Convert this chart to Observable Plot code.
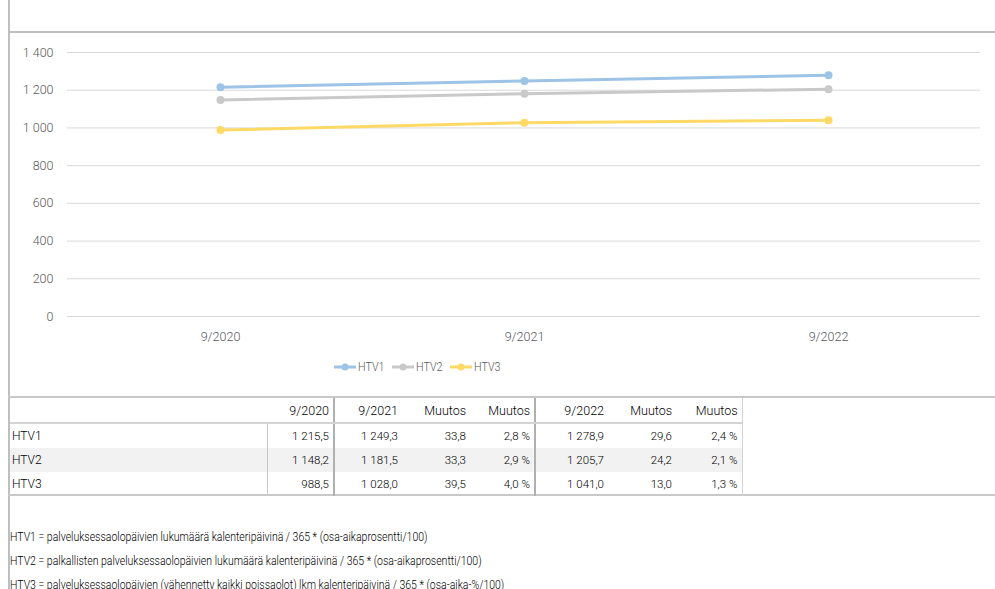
<!DOCTYPE html>
<html>
<head>
<meta charset="utf-8">
<script src="https://cdn.jsdelivr.net/npm/d3@7"></script>
<script src="https://cdn.jsdelivr.net/npm/@observablehq/plot@0.6"></script>
<style>
  body { margin:0; width:995px; height:589px; overflow:hidden; position:relative; background:#fff; font-family: Roboto, "Liberation Sans", sans-serif; color:#000; }
  .abs { position:absolute; }
  .leg { position:absolute; top:359px; font-size:12.5px; color:#595959; white-space:nowrap; font-weight:300; }
  table { position:absolute; left:10px; top:398px; border-collapse:collapse; table-layout:fixed; font-size:11.5px; font-weight:300; }
  td, th { height:24px; padding:0 4px 0 2px; font-weight:300; white-space:nowrap; }
  th { text-align:right; border-bottom:2px solid #d4d4d4; color:#000; font-size:12.5px; }
  td { text-align:right; }
  td.lab { text-align:left; font-size:12px; }
  tr.shade td { background:#f2f2f2; }
  .c1 { border-left:1px solid #c8c8c8; }
  .c2 { border-left:2px solid #b0b0b0; }
  .c5 { border-left:2px solid #b0b0b0; }
  .c7 { border-right:1px solid #d4d4d4; }
  .foot { position:absolute; left:10px; font-size:12.5px; color:#000; white-space:nowrap; font-weight:300; transform:scaleX(0.84); transform-origin:0 0; }
</style>
</head>
<body>
<div class="abs" style="left:8px;top:0;width:2px;height:589px;background:#bfbfbf"></div>
<div class="abs" style="left:8px;top:31px;width:987px;height:2px;background:#bfbfbf"></div>
<div class="abs" style="left:8px;top:396px;width:987px;height:2px;background:#c8c8c8"></div>
<div class="abs" style="left:8px;top:494px;width:987px;height:2px;background:#c8c8c8"></div>
<div id="chart" class="abs" style="left:0;top:0"></div>
<div id="legend"></div>
<table id="tbl"></table>
<div id="notes"></div>
<script>
const periods = ["9/2020", "9/2021", "9/2022"];
const seriesNames = ["HTV1", "HTV2", "HTV3"];
const htv1 = [1215.5, 1249.3, 1278.9];
const htv2 = [1148.2, 1181.5, 1205.7];
const htv3 = [988.5, 1028.0, 1041.0];
const change2021 = [33.8, 33.3, 39.5];
const pct2021 = [2.8, 2.9, 4.0];
const change2022 = [29.6, 24.2, 13.0];
const pct2022 = [2.4, 2.1, 1.3];
const yTicks = [0, 200, 400, 600, 800, 1000, 1200, 1400];
const seriesColors = ["#9dc3e6", "#c9c9c9", "#ffd966"];
const tableHeaders = ["", "9/2020", "9/2021", "Muutos", "Muutos", "9/2022", "Muutos", "Muutos"];
const footnotes = [
  "HTV1 = palveluksessaolopäivien lukumäärä kalenteripäivinä / 365 * (osa-aikaprosentti/100)",
  "HTV2 = palkallisten palveluksessaolopäivien lukumäärä kalenteripäivinä / 365 * (osa-aikaprosentti/100)",
  "HTV3 = palveluksessaolopäivien (vähennetty kaikki poissaolot) lkm kalenteripäivinä / 365 * (osa-aika-%/100)"
];

const allSeries = [htv1, htv2, htv3];
const data = [];
seriesNames.forEach((s, i) => periods.forEach((p, j) => data.push({series: s, period: p, value: allSeries[i][j]})));

const fi = d3.formatLocale({decimal: ",", thousands: "\u00a0", grouping: [3], currency: ["", "€"]});
const fmtInt = fi.format(",d");
const fmt1 = fi.format(",.1f");

const chart = Plot.plot({
  width: 995,
  height: 396,
  marginLeft: 67,
  marginRight: 15,
  marginTop: 52,
  marginBottom: 80,
  style: {background: "transparent", color: "#595959", fontSize: "12.5px", fontFamily: "Roboto, sans-serif", fontWeight: 300},
  x: {type: "point", domain: periods, padding: 0.5},
  y: {domain: [0, 1400]},
  color: {domain: seriesNames, range: seriesColors},
  marks: [
    Plot.gridY(yTicks, {stroke: "#d9d9d9", strokeOpacity: 1, strokeWidth: 1}),
    Plot.axisY({ticks: yTicks, tickSize: 0, tickPadding: 14, tickFormat: fmtInt, label: null}),
    Plot.axisX({tickSize: 0, tickPadding: 16, label: null}),
    Plot.line(data, {x: "period", y: "value", z: "series", stroke: "series", strokeWidth: 3}),
    Plot.dot(data, {x: "period", y: "value", fill: "series", r: 4})
  ]
});
document.getElementById("chart").appendChild(chart);

// legend
const legend = document.getElementById("legend");
const legLeft = [334, 392, 450];
seriesNames.forEach((s, i) => {
  const sw = document.createElement("div");
  sw.className = "abs";
  sw.style.left = legLeft[i] + "px";
  sw.style.top = "362px";
  sw.innerHTML = `<svg width="22" height="10" style="display:block"><line x1="0" y1="5" x2="22" y2="5" stroke="${seriesColors[i]}" stroke-width="3"/><circle cx="11" cy="5" r="3.5" fill="${seriesColors[i]}"/></svg>`;
  legend.appendChild(sw);
  const t = document.createElement("div");
  t.className = "leg";
  t.style.left = (legLeft[i] + 24) + "px";
  t.style.transform = "scaleX(0.86)";
  t.style.transformOrigin = "0 0";
  t.textContent = s;
  legend.appendChild(t);
});

// table
const colWidths = [257, 67, 68, 68, 65, 73, 68, 66];
const tbl = document.getElementById("tbl");
const cg = document.createElement("colgroup");
colWidths.forEach(w => { const c = document.createElement("col"); c.style.width = w + "px"; cg.appendChild(c); });
tbl.appendChild(cg);
const hr = document.createElement("tr");
tableHeaders.forEach((h, k) => {
  const th = document.createElement("th");
  th.textContent = h;
  if (k === 2) th.className = "c2";
  if (k === 5) th.className = "c5";
  if (k === 7) th.className = "c7";
  hr.appendChild(th);
});
tbl.appendChild(hr);
seriesNames.forEach((s, i) => {
  const tr = document.createElement("tr");
  if (i === 1) tr.className = "shade";
  const vals = [s, fmt1(allSeries[i][0]), fmt1(allSeries[i][1]), fmt1(change2021[i]), fmt1(pct2021[i]) + "\u00a0%",
                fmt1(allSeries[i][2]), fmt1(change2022[i]), fmt1(pct2022[i]) + "\u00a0%"];
  vals.forEach((v, k) => {
    const td = document.createElement("td");
    td.textContent = v;
    const cls = [];
    if (k === 0) cls.push("lab");
    if (k === 1) cls.push("c1");
    if (k === 2) cls.push("c2");
    if (k === 5) cls.push("c5");
    if (k === 7) cls.push("c7");
    td.className = cls.join(" ");
    tr.appendChild(td);
  });
  tbl.appendChild(tr);
});

// footnotes
const notes = document.getElementById("notes");
footnotes.forEach((t, i) => {
  const d = document.createElement("div");
  d.className = "foot";
  d.style.top = (529 + i * 24) + "px";
  d.textContent = t;
  notes.appendChild(d);
});
</script>
</body>
</html>
